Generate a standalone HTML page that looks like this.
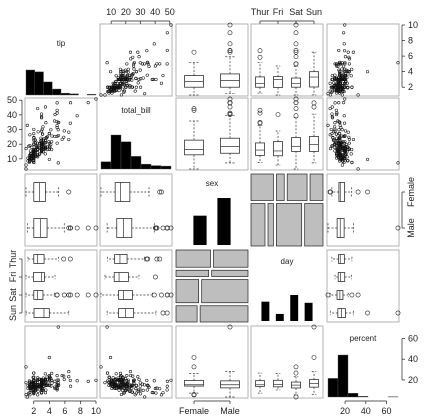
<!DOCTYPE html>
<html><head><meta charset="utf-8"><style>
html,body{margin:0;padding:0;background:#fff;}
svg{display:block;font-family:"Liberation Sans",sans-serif;}
.tl{font-size:9px;fill:#222;}
</style></head><body>
<svg id="chart" xmlns="http://www.w3.org/2000/svg" width="425" height="420" viewBox="0 0 425 420"></svg>
<script>
// ---- data (tips dataset, by day) ----
const sunBill=[16.99,10.34,21.01,23.68,24.59,25.29,8.77,26.88,15.04,14.78,10.27,35.26,15.42,18.43,14.83,21.58,10.33,16.29,16.97,48.17,40.55,45.35,7.25,9.60,34.81,20.69,25.00,31.85,16.82,23.33,38.73,24.27,12.76,30.06,25.89,18.15,20.90,22.82,17.47,17.81,13.37,29.85,19.81,28.44,15.48,16.58,7.56,10.34,23.17];
const sunTip=[1.01,1.66,3.5,3.31,3.61,4.71,2.0,3.12,1.96,3.23,1.71,5.0,1.57,3.0,3.02,3.92,1.67,3.71,3.5,5.0,3.0,3.5,5.15,4.0,5.2,5.0,3.75,3.18,4.0,5.65,3.0,2.03,2.23,2.0,5.16,3.5,3.5,2.18,3.5,2.34,2.0,5.14,4.19,2.56,2.02,4.0,1.44,2.0,6.5];
const sunSex="FMMMF MMMMM MFMMF MFMFM MMMFF MFMMM MMFMM FFMFM MFFMM MMMM";
const satBill=[20.65,17.92,20.29,15.77,39.42,19.82,17.81,13.37,12.69,21.70,19.65,9.55,18.35,15.06,20.69,17.78,24.06,16.31,16.93,18.69,31.27,16.04,50.81,48.33,48.27,44.30,3.07,32.83,28.17,38.01,26.41,11.24,20.29,13.81,11.02,18.29,17.59,20.08,16.45,20.23,15.01,12.02,17.07,26.86,25.28,14.73,10.51,17.92,15.69,22.67,35.83,29.03,27.18,17.82,18.78,34.63,30.14,13.28,20.45,13.42,16.27,10.09,20.76,9.78,7.51,15.98,24.55,19.77,12.74,22.12];
const satTip=[3.35,4.08,2.75,2.23,7.58,3.18,2.34,2.0,2.0,4.3,3.0,1.45,2.5,3.0,2.45,3.27,3.6,2.0,3.07,2.31,5.0,2.24,10.0,9.0,6.73,2.5,1.0,1.17,6.5,3.0,1.5,1.76,3.21,2.0,1.98,3.76,2.64,3.15,2.47,2.01,2.09,1.97,3.0,3.14,5.0,2.2,1.25,3.08,3.0,2.0,4.67,5.92,2.0,1.75,3.0,3.55,3.09,2.72,3.0,1.58,2.5,2.0,2.24,1.73,2.0,2.03,2.0,2.0,2.01,2.88];
const satSex="MMFFM MMMMM FMMFF MMMFM MMMMM FFMFM FMMMM MMMFM MMFFF FMMMM FMFMF MFMMM FFMMM MFMFM";
const thurBill=[27.20,22.76,17.29,19.44,16.66,10.07,32.68,15.98,34.83,13.03,18.28,24.71,21.16,43.11,41.19,34.30,13.00,16.40,20.53,16.47,8.51,10.33,14.15,16.00,13.16,17.47,12.43,24.08,11.69,13.42,14.26,15.95,12.48,29.80,8.52,14.52,11.38,22.82,19.08,20.27,11.17,12.26,18.26,8.35,18.64,11.87,9.78,7.51,10.65,12.66,15.53,25.56];
const thurTip=[4.0,3.0,2.71,3.0,3.4,1.83,5.0,2.03,5.17,2.0,4.0,5.85,3.0,5.0,5.0,6.7,2.0,2.5,4.0,3.23,1.25,2.0,2.0,2.0,2.75,3.5,1.8,2.92,2.31,1.68,2.5,2.0,2.52,4.2,1.48,2.0,2.0,2.18,1.5,2.83,1.5,2.0,3.25,1.5,1.36,1.63,1.73,2.0,1.5,2.5,3.0,4.34];
const thurSex="MMMMM FMMFM MMMFM MFFMF FFFMF FFFMF MMFFM FFMMF FFFFF FMMFM MM";
const friBill=[28.97,22.49,5.75,16.32,22.75,40.17,27.28,12.03,21.01,12.46,11.35,15.38,12.16,13.42,8.58,15.98,13.42,16.27,10.09];
const friTip=[3.0,3.5,1.0,4.3,3.25,4.73,4.0,1.5,3.0,1.5,2.5,3.0,2.2,3.48,1.92,3.0,1.58,2.5,2.0];
const friSex="MMFFF MMMMM FFMFM FMFF";
const sexLevels=["Female","Male"];
const dayLevels=["Thur","Fri","Sat","Sun"];
const tipTicks=[2,4,6,8,10];
const billTicks=[10,20,30,40,50];
const percentTicks=[20,40,60];

// ---- assemble ----
const billV=[],tipV=[],sexV=[],dayV=[],pctV=[];
function addDay(b,t,s,d){const ss=s.replace(/ /g,'');for(let i=0;i<b.length;i++){billV.push(b[i]);tipV.push(t[i]);sexV.push(ss[i]==='F'?0:1);dayV.push(d);pctV.push(t[i]/b[i]*100);}}
addDay(thurBill,thurTip,thurSex,0);addDay(friBill,friTip,friSex,1);addDay(satBill,satTip,satSex,2);addDay(sunBill,sunTip,sunSex,3);

const NS="http://www.w3.org/2000/svg";
const svg=document.getElementById('chart');
function mk(tag,attrs,parent){const e=document.createElementNS(NS,tag);for(const k in attrs)e.setAttribute(k,attrs[k]);(parent||svg).appendChild(e);return e;}

const P=72,colX=[25,100,176,251,327],rowY=[24,98,174,250,326];
const vars=[
 {name:'tip',num:true,v:tipV},
 {name:'total_bill',num:true,v:billV},
 {name:'sex',num:false,v:sexV,lv:sexLevels},
 {name:'day',num:false,v:dayV,lv:dayLevels},
 {name:'percent',num:true,v:pctV}];
vars.forEach(o=>{if(o.num){o.min=Math.min(...o.v);o.max=Math.max(...o.v);}});
function sx(vi,c,val){const o=vars[vi];return colX[c]+1+(val-o.min)/(o.max-o.min)*(P-2);}
function sy(vi,r,val){const o=vars[vi];return rowY[r]+P-1-(val-o.min)/(o.max-o.min)*(P-2);}
function catPos(vi,i){return (i+0.5)*P/vars[vi].lv.length;}

function fivenum(a){const x=a.slice().sort((p,q)=>p-q),n=x.length;const n4=Math.floor((n+3)/2)/2;const d=[1,n4,(n+1)/2,n+1-n4,n];return d.map(k=>0.5*(x[Math.floor(k)-1]+x[Math.ceil(k)-1]));}

function boxplot(vals,vertical,center,hw,scale){
  const g=mk('g',{});
  
  
  const f=fivenum(vals),iqr=f[3]-f[1];
  const inr=vals.filter(v=>v>=f[1]-1.5*iqr&&v<=f[3]+1.5*iqr);
  const lo=Math.min(...inr),hi=Math.max(...inr);
  const outs=vals.filter(v=>v<lo||v>hi);
  const L=(a1,b1,a2,b2,dash,nm)=>{const at=vertical?{x1:a1,y1:b1,x2:a2,y2:b2}:{x1:b1,y1:a1,x2:b2,y2:a2};at.stroke='#333';at['stroke-width']=0.7;if(dash)at['stroke-dasharray']='2,1.6';const l=mk('line',at,g);
    
    };
  L(center,scale(f[3]),center,scale(hi),true,'whisker');
  L(center,scale(f[1]),center,scale(lo),true,'whisker');
  L(center-hw/2,scale(hi),center+hw/2,scale(hi),true,'staple');
  L(center-hw/2,scale(lo),center+hw/2,scale(lo),true,'staple');
  const a=scale(f[3]),b=scale(f[1]);
  const r=vertical?{x:center-hw,y:Math.min(a,b),width:2*hw,height:Math.abs(b-a)}:{y:center-hw,x:Math.min(a,b),height:2*hw,width:Math.abs(b-a)};
  r.fill='#fff';r.stroke='#333';r['stroke-width']=0.8;
  const box=mk('rect',r,g);
  
  
  L(center-hw,scale(f[2]),center+hw,scale(f[2]),false,'median-line');
  outs.forEach(v=>{const c=vertical?{cx:center,cy:scale(v)}:{cx:scale(v),cy:center};c.r=2.1;c.fill='none';c.stroke='#222';c['stroke-width']=0.6;const o=mk('circle',c,g);
    
    });
}

function border(c,r){const b=mk('rect',{x:colX[c],y:rowY[r],width:P,height:P,fill:'none',stroke:'#a0a0a0','stroke-width':0.8});
  
  }

for(let r=0;r<5;r++)for(let c=0;c<5;c++){
  const R=vars[r],C=vars[c],x0=colX[c],y0=rowY[r];
  if(r===c){
    const lab=mk('text',{x:x0+P/2,y:y0+[22,15,12,14,15][r],'font-size':8,'text-anchor':'middle',fill:'#222'});
    lab.textContent=R.name;
    
    
    if(R.num){
      const nb=[8,7,7][[0,1,4].indexOf(r)],mh=[25,34,42][[0,1,4].indexOf(r)];
      const w=(R.max-R.min)/nb,cnt=new Array(nb).fill(0);
      R.v.forEach(v=>{cnt[Math.min(nb-1,Math.floor((v-R.min)/w))]++;});
      const mx=Math.max(...cnt);
      cnt.forEach((k,i)=>{const xa=sx(r,c,R.min+i*w),xb=sx(r,c,R.min+(i+1)*w),h=k/mx*mh;
        const b=mk('rect',{x:xa,y:y0+P-1-h,width:xb-xa,height:h,fill:'#000',stroke:'#555','stroke-width':0.4});
        
        });
    } else {
      const n=R.lv.length,cnt=new Array(n).fill(0);R.v.forEach(v=>cnt[v]++);
      const mx=Math.max(...cnt),mh=r===2?47:26,sp=P/(n+1),bw=sp*0.55;
      cnt.forEach((k,i)=>{const h=k/mx*mh;const b=mk('rect',{x:x0+(i+1)*sp-bw/2,y:y0+P-1-h,width:bw,height:h,fill:'#000'});
        
        });
    }
    continue;
  }
  if(R.num&&C.num){
    border(c,r);
    for(let i=0;i<R.v.length;i++){const p=mk('circle',{cx:sx(c,c,C.v[i]),cy:sy(r,r,R.v[i]),r:1.3,fill:'none',stroke:'#111','stroke-width':0.55});
      
      }
  } else if(!R.num&&!C.num){
    const nr=R.lv.length,nc=C.lv.length,N=R.v.length,gap=3;
    const rc=new Array(nr).fill(0);R.v.forEach(v=>rc[v]++);
    let yy=y0;const totH=P-gap*(nr-1);
    for(let i=0;i<nr;i++){
      const h=rc[i]/N*totH;const cc=new Array(nc).fill(0);
      for(let k=0;k<N;k++)if(R.v[k]===i)cc[C.v[k]]++;
      let xx=x0;const totW=P-gap*(nc-1);
      for(let j=0;j<nc;j++){const w=cc[j]/rc[i]*totW;
        const m=mk('rect',{x:xx,y:yy,width:Math.max(w,0.5),height:h,fill:'#bebebe',stroke:'#222','stroke-width':0.7});
        
        
        xx+=w+gap;}
      yy+=h+gap;
    }
  } else if(!C.num){
    border(c,r);
    C.lv.forEach((l,i)=>{boxplot(R.v.filter((v,k)=>C.v[k]===i),true,x0+catPos(c,i),c===2?9.5:4.5,v=>sy(r,r,v));});
  } else {
    border(c,r);
    R.lv.forEach((l,i)=>{boxplot(C.v.filter((v,k)=>R.v[k]===i),false,y0+catPos(r,i),r===2?9.5:4.5,v=>sx(c,c,v));});
  }
}

// ---- axes ----
function axis(side,pos,labels,rot,nm){
  const g=mk('g',{});
  
  
  const a=Math.min(...pos),b=Math.max(...pos);
  const ln={top:[a,21,b,21],bottom:[a,401,b,401],left:[22,a,22,b],right:[402,a,402,b]}[side];
  const al=mk('line',{x1:ln[0],y1:ln[1],x2:ln[2],y2:ln[3],stroke:'#222','stroke-width':0.7},g);
  
  
  for(let i=0;i<pos.length;i++){
    const p=pos[i];
    const t={top:[p,21,p,24],bottom:[p,401,p,404],left:[22,p,19,p],right:[402,p,405,p]}[side];
    const tk=mk('line',{x1:t[0],y1:t[1],x2:t[2],y2:t[3],stroke:'#222','stroke-width':0.7},g);
    
    
    let at;
    if(side==='top')at={x:p,y:15,'text-anchor':'middle'};
    else if(side==='bottom')at={x:p,y:414,'text-anchor':'middle'};
    else if(side==='left')at=rot?{x:16,y:p,'text-anchor':'middle',transform:'rotate(-90 16 '+p+')'}:{x:17,y:p+3,'text-anchor':'end'};
    else at=rot?{x:414,y:p,'text-anchor':'middle',transform:'rotate(-90 414 '+p+')'}:{x:408,y:p+3,'text-anchor':'start'};
    at['class']='tl';
    const tx=mk('text',at,g);
    tx.textContent=String(labels[i]);
    
    
  }
}
axis('top',billTicks.map(v=>sx(1,1,v)),billTicks,false,'top-axis-total-bill');
axis('top',dayLevels.map((l,i)=>colX[3]+catPos(3,i)),dayLevels,false,'top-axis-day');
axis('right',tipTicks.map(v=>sy(0,0,v)),tipTicks,false,'right-axis-tip');
axis('right',sexLevels.map((l,i)=>rowY[2]+catPos(2,i)),sexLevels,true,'right-axis-sex');
axis('right',percentTicks.map(v=>sy(4,4,v)),percentTicks,false,'right-axis-percent');
axis('left',billTicks.map(v=>sy(1,1,v)),billTicks,false,'left-axis-total-bill');
axis('left',dayLevels.map((l,i)=>rowY[3]+catPos(3,i)),dayLevels,true,'left-axis-day');
axis('bottom',tipTicks.map(v=>sx(0,0,v)),tipTicks,false,'bottom-axis-tip');
axis('bottom',sexLevels.map((l,i)=>colX[2]+catPos(2,i)),sexLevels,false,'bottom-axis-sex');
axis('bottom',percentTicks.map(v=>sx(4,4,v)),percentTicks,false,'bottom-axis-percent');
</script>
</body></html>
